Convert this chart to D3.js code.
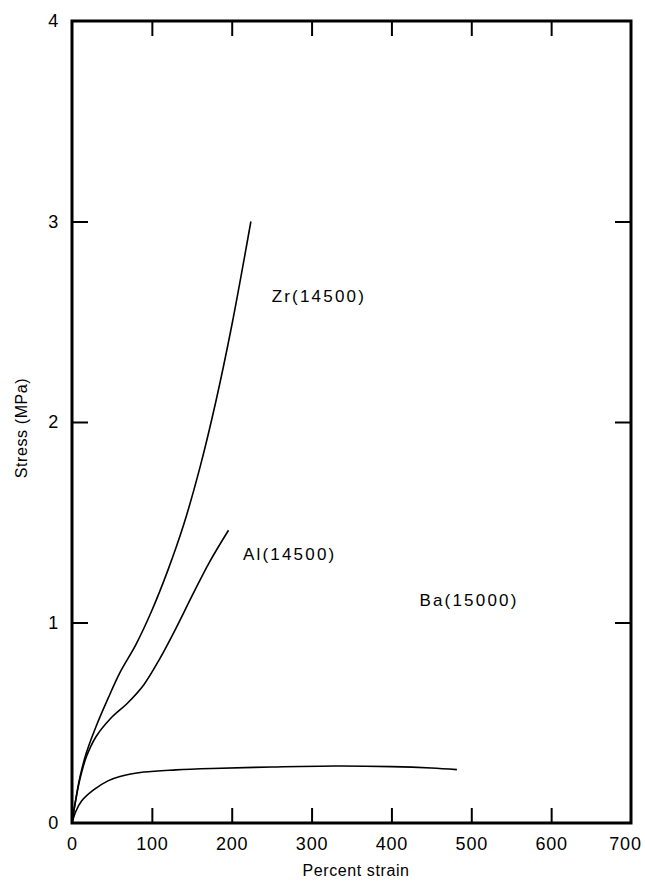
<!DOCTYPE html>
<html lang="en">
<head>
<meta charset="UTF-8">
<title>Stress vs percent strain</title>
<script src="https://d3js.org/d3.v7.min.js"></script>
<style>
  body { margin: 0; background: #fff; }
  svg { display: block; font-family: "Liberation Sans", Arial, sans-serif; }
  .tick text { font-size: 18px; fill: #000; letter-spacing: 0.8px; }
  .curve { fill: none; stroke: #000; stroke-width: 1.6; }
  .label { font-size: 17px; letter-spacing: 2.2px; fill: #000; }
  .axis-title { font-size: 16px; fill: #000; letter-spacing: 0.6px; }
</style>
</head>
<body>
<svg width="645" height="887"></svg>
<script>
// values: [percent strain, stress MPa]
const zr = [[0,0],[4,0.1],[10,0.23],[18,0.35],[30,0.48],[45,0.62],[60,0.75],[80,0.89],[100,1.06],[120,1.26],[140,1.49],[160,1.77],[180,2.1],[200,2.48],[224,3.0]];
const al = [[0,0],[4,0.1],[10,0.22],[18,0.33],[30,0.43],[48,0.52],[70,0.6],[90,0.69],[110,0.82],[130,0.97],[150,1.13],[172,1.3],[196,1.46]];
const ba = [[0,0],[5,0.06],[12,0.11],[27,0.165],[45,0.21],[60,0.232],[90,0.254],[130,0.265],[175,0.272],[250,0.279],[330,0.284],[400,0.281],[450,0.274],[482,0.266]];

const seriesNames = ["Zr(14500)", "Al(14500)", "Ba(15000)"];
const labelAt = [[250, 2.6], [214, 1.31], [435, 1.08]]; // label anchor in data units

const xTicks = [0, 100, 200, 300, 400, 500, 600, 700];
const yTicks = [0, 1, 2, 3, 4];

const svg = d3.select("svg");
const x = d3.scaleLinear().domain([0, 700]).range([72, 631]);
const y = d3.scaleLinear().domain([0, 4]).range([823, 21]);

// frame
svg.append("rect")
  .attr("x", x(0)).attr("y", y(4))
  .attr("width", x(700) - x(0)).attr("height", y(0) - y(4))
  .attr("fill", "none").attr("stroke", "#000").attr("stroke-width", 3);

function styleAxis(g) {
  g.select(".domain").remove();
  g.selectAll(".tick line").attr("stroke", "#000").attr("stroke-width", 2);
}

// bottom axis: labels, inward ticks
svg.append("g")
  .attr("transform", `translate(0,${y(0)})`)
  .call(d3.axisBottom(x).tickValues(xTicks).tickSizeInner(-15).tickSizeOuter(0).tickPadding(14).tickFormat(d3.format("d")))
  .call(styleAxis)
  .call(g => g.selectAll(".tick").filter(d => d === 0 || d === 700).select("line").remove())
  .call(g => g.selectAll(".tick").filter(d => d === 700).select("text").attr("dx", -6));

// top axis: ticks only
svg.append("g")
  .attr("transform", `translate(0,${y(4)})`)
  .call(d3.axisTop(x).tickValues(xTicks.slice(1, -1)).tickSizeInner(-15).tickSizeOuter(0).tickFormat(""))
  .call(styleAxis);

// left axis
svg.append("g")
  .attr("transform", `translate(${x(0)},0)`)
  .call(d3.axisLeft(y).tickValues(yTicks).tickSizeInner(-16).tickSizeOuter(0).tickPadding(13).tickFormat(d3.format("d")))
  .call(styleAxis)
  .call(g => g.selectAll(".tick").filter(d => d === 0 || d === 4).select("line").remove());

// right axis: ticks only
svg.append("g")
  .attr("transform", `translate(${x(700)},0)`)
  .call(d3.axisRight(y).tickValues(yTicks.slice(1, -1)).tickSizeInner(-16).tickSizeOuter(0).tickFormat(""))
  .call(styleAxis);

const line = d3.line()
  .x(d => x(d[0]))
  .y(d => y(d[1]))
  .curve(d3.curveCatmullRom.alpha(0.5));

[zr, al, ba].forEach((data, i) => {
  svg.append("path").attr("class", "curve").attr("d", line(data));
  svg.append("text")
    .attr("class", "label")
    .attr("x", x(labelAt[i][0]))
    .attr("y", y(labelAt[i][1]))
    .text(seriesNames[i]);
});

svg.append("text")
  .attr("class", "axis-title")
  .attr("x", 356).attr("y", 876)
  .attr("text-anchor", "middle")
  .text("Percent strain");

svg.append("text")
  .attr("class", "axis-title")
  .attr("transform", "translate(27,428) rotate(-90)")
  .attr("text-anchor", "middle")
  .text("Stress (MPa)");
</script>
</body>
</html>
